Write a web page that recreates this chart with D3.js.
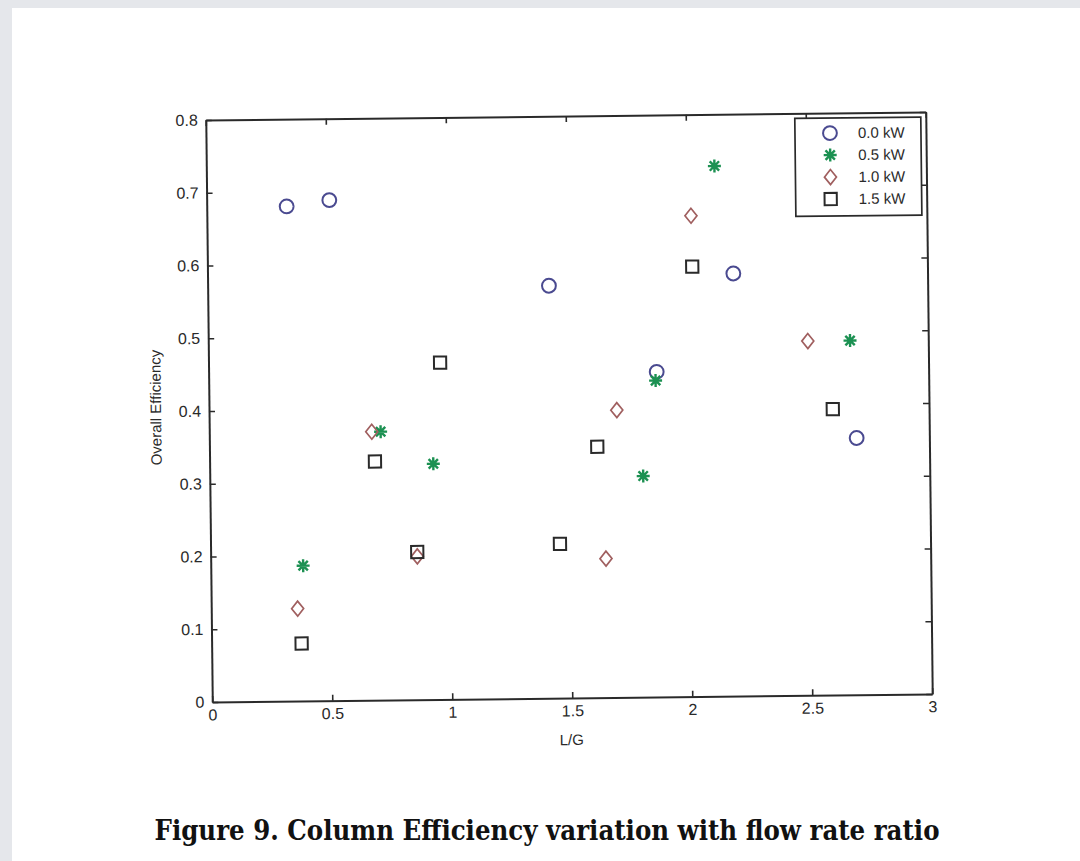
<!DOCTYPE html>
<html lang="en">
<head>
<meta charset="UTF-8">
<title>Column Efficiency variation with flow rate ratio</title>
<script src="https://d3js.org/d3.v7.min.js"></script>
<style>
  body { margin: 0; background: #fff; }
  svg text { font-family: "Liberation Sans", Arial, sans-serif; fill: #2a2a2a; }
  .caption { font-family: "DejaVu Serif", "Liberation Serif", serif; font-weight: bold; font-stretch: condensed; fill: #111; }
</style>
</head>
<body>
<script>
  // values
  var series = ["0.0 kW", "0.5 kW", "1.0 kW", "1.5 kW"];
  var lg00 = [0.333, 0.511, 1.422, 1.867, 2.191, 2.697];
  var eff00 = [0.680, 0.688, 0.567, 0.447, 0.581, 0.353];
  var lg05 = [0.385, 0.714, 0.932, 1.806, 1.862, 2.117, 2.674];
  var eff05 = [0.186, 0.369, 0.324, 0.304, 0.435, 0.729, 0.487];
  var lg10 = [0.360, 0.677, 0.861, 1.699, 1.647, 2.017, 2.498];
  var eff10 = [0.127, 0.369, 0.197, 0.395, 0.191, 0.661, 0.487];
  var lg15 = [0.375, 0.689, 0.861, 0.965, 1.616, 1.456, 2.020, 2.599];
  var eff15 = [0.079, 0.328, 0.203, 0.463, 0.345, 0.212, 0.591, 0.393];
  var xTicks = [0, 0.5, 1, 1.5, 2, 2.5, 3];
  var yTicks = [0, 0.1, 0.2, 0.3, 0.4, 0.5, 0.6, 0.7, 0.8];

  var W = 1080, H = 861;
  var margin = { left: 209, top: 116 };
  var width = 720, height = 582;

  var svg = d3.select("body").append("svg")
    .attr("width", W)
    .attr("height", H);

  // grey page edges of the scan
  svg.append("rect").attr("x", 0).attr("y", 0).attr("width", W).attr("height", 8).attr("fill", "#e5e7eb");
  svg.append("rect").attr("x", 0).attr("y", 0).attr("width", 12).attr("height", H).attr("fill", "#e5e7eb");

  // the scanned page is tilted slightly
  var chart = svg.append("g")
    .attr("transform", "rotate(-0.64,569,407)");

  var g = chart.append("g")
    .attr("transform", `translate(${margin.left},${margin.top})`);

  var x = d3.scaleLinear().domain([0, 3]).range([0, width]);
  var y = d3.scaleLinear().domain([0, 0.8]).range([height, 0]);

  var fmt = d => d === 0 ? "0" : d3.format("")(d);

  g.append("g")
    .attr("transform", `translate(0,${height})`)
    .call(d3.axisBottom(x).tickValues(xTicks).tickFormat(fmt).tickSize(-6).tickSizeOuter(0).tickPadding(7));
  g.append("g")
    .call(d3.axisTop(x).tickValues(xTicks).tickFormat("").tickSize(-6).tickSizeOuter(0));
  g.append("g")
    .call(d3.axisLeft(y).tickValues(yTicks).tickFormat(fmt).tickSize(-6).tickSizeOuter(0).tickPadding(8));
  g.append("g")
    .attr("transform", `translate(${width},0)`)
    .call(d3.axisRight(y).tickValues(yTicks).tickFormat("").tickSize(-6).tickSizeOuter(0));

  g.selectAll(".domain").attr("stroke", "#2a2a2a").attr("stroke-width", 2);
  g.selectAll(".tick line").attr("stroke", "#2a2a2a").attr("stroke-width", 1.6);
  g.selectAll(".tick text").attr("font-size", 16).style("font-size", "16px").attr("fill", "#2a2a2a");

  g.append("text")
    .attr("x", width / 2 - 1)
    .attr("y", height + 47)
    .attr("text-anchor", "middle")
    .style("font-size", "15px")
    .text("L/G");

  g.append("text")
    .attr("transform", `translate(-48,${height / 2 - 4}) rotate(-90)`)
    .attr("text-anchor", "middle")
    .style("font-size", "15px")
    .text("Overall Efficiency");

  // markers, MATLAB style
  var starPath = function(s) {
    var r = s / 2, d = r * 0.72;
    return `M${-r},0L${r},0M0,${-r}L0,${r}M${-d},${-d}L${d},${d}M${-d},${d}L${d},${-d}`;
  };
  var markers = [
    { name: series[0], xs: lg00, ys: eff00, color: "#4a4a90", path: d3.symbol(d3.symbolCircle, 150)(), sw: 2 },
    { name: series[1], xs: lg05, ys: eff05, color: "#1c9152", path: starPath(13), sw: 2.4 },
    { name: series[2], xs: lg10, ys: eff10, color: "#a05f5f", path: "M0,-7.5L6,0L0,7.5L-6,0Z", sw: 1.7 },
    { name: series[3], xs: lg15, ys: eff15, color: "#2a2a2a", path: d3.symbol(d3.symbolSquare, 150)(), sw: 2 }
  ];

  markers.forEach(function(m) {
    g.append("g").selectAll("path")
      .data(m.xs.map((v, i) => [v, m.ys[i]]))
      .enter().append("path")
      .attr("transform", d => `translate(${x(d[0])},${y(d[1])})`)
      .attr("d", m.path)
      .attr("fill", "none")
      .attr("stroke", m.color)
      .attr("stroke-width", m.sw);
  });

  // legend
  var legend = g.append("g")
    .attr("transform", `translate(${width - 131},5)`);
  legend.append("rect")
    .attr("width", 126)
    .attr("height", 98)
    .attr("fill", "#fff")
    .attr("stroke", "#2a2a2a")
    .attr("stroke-width", 1.7);
  markers.forEach(function(m, i) {
    var row = legend.append("g").attr("transform", `translate(0,${15 + i * 22})`);
    row.append("path")
      .attr("transform", "translate(35,0)")
      .attr("d", m.path)
      .attr("fill", "none")
      .attr("stroke", m.color)
      .attr("stroke-width", m.sw);
    row.append("text")
      .attr("x", 63)
      .attr("dy", "0.35em")
      .style("font-size", "15px")
      .text(m.name);
  });

  svg.append("text")
    .attr("class", "caption")
    .attr("x", 547)
    .attr("y", 840)
    .attr("text-anchor", "middle")
    .attr("textLength", 785)
    .attr("lengthAdjust", "spacingAndGlyphs")
    .style("font-size", "27px")
    .text("Figure 9. Column Efficiency variation with flow rate ratio");
</script>
</body>
</html>
